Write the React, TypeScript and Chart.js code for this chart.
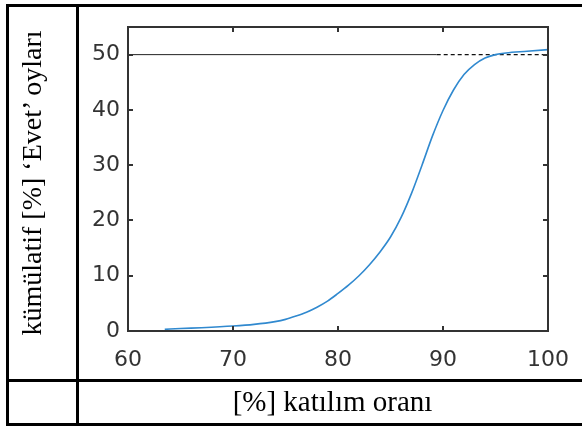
import React, { useEffect, useRef } from "react";
import { Chart, registerables } from "chart.js";

Chart.register(...registerables);

// Data
const participation = [63.5, 65, 67, 70, 72, 74, 75, 76, 77, 78, 79, 80, 81, 82, 83, 84, 85, 86, 87, 88, 89, 90, 91, 92, 93, 94, 95, 96, 98, 100];
const cumulativeYes = [0.3, 0.45, 0.6, 0.9, 1.2, 1.7, 2.1, 2.7, 3.4, 4.3, 5.4, 6.8, 8.3, 10.0, 12.0, 14.3, 17.0, 20.5, 24.9, 30.0, 35.3, 39.9, 43.6, 46.4, 48.2, 49.4, 50.0, 50.3, 50.6, 50.9];
const refLevel = 50;
const refSolidStart = 60;
const refSolidEnd = 89.4;
const refDashEnd = 100;
const xTickValues = [60, 70, 80, 90, 100];
const yTickValues = [0, 10, 20, 30, 40, 50];
const yAxisLabel = "kümülatif [%] ‘Evet’ oyları";
const xAxisLabel = "[%] katılım oranı";

const framePlugin = {
  id: "matlabFrame",
  afterDraw(chart: any) {
    const { ctx, chartArea: a, scales } = chart;
    const xs = scales.x;
    const ys = scales.y;
    ctx.save();
    ctx.strokeStyle = "#333333";
    ctx.lineWidth = 2;
    ctx.strokeRect(a.left, a.top, a.right - a.left, a.bottom - a.top);
    ctx.beginPath();
    const tl = 5;
    xTickValues.forEach((v) => {
      const px = Math.round(xs.getPixelForValue(v));
      ctx.moveTo(px, a.bottom);
      ctx.lineTo(px, a.bottom - tl);
      ctx.moveTo(px, a.top);
      ctx.lineTo(px, a.top + tl);
    });
    yTickValues.forEach((v) => {
      const py = Math.round(ys.getPixelForValue(v));
      ctx.moveTo(a.left, py);
      ctx.lineTo(a.left + tl, py);
      ctx.moveTo(a.right, py);
      ctx.lineTo(a.right - tl, py);
    });
    ctx.stroke();
    ctx.restore();
  },
};

export default function App() {
  const ref = useRef<HTMLCanvasElement | null>(null);

  useEffect(() => {
    document.body.style.margin = "0";
    const canvas = ref.current;
    if (!canvas) return;
    const chart = new Chart(canvas, {
      type: "line",
      data: {
        datasets: [
          {
            data: participation.map((x, i) => ({ x, y: cumulativeYes[i] })),
            borderColor: "#3089cf",
            borderWidth: 1.6,
            pointRadius: 0,
            cubicInterpolationMode: "monotone",
            fill: false,
          },
          {
            data: [
              { x: refSolidStart, y: refLevel },
              { x: refSolidEnd, y: refLevel },
            ],
            borderColor: "#222222",
            borderWidth: 1,
            pointRadius: 0,
            fill: false,
          },
          {
            data: [
              { x: refSolidEnd, y: refLevel },
              { x: refDashEnd, y: refLevel },
            ],
            borderColor: "#111111",
            borderWidth: 1.2,
            borderDash: [4, 3],
            pointRadius: 0,
            fill: false,
          },
        ],
      } as any,
      options: {
        animation: false,
        responsive: false,
        maintainAspectRatio: false,
        layout: { padding: { left: 0, top: 27, right: 34, bottom: 0 } },
        plugins: { legend: { display: false }, tooltip: { enabled: false } },
        scales: {
          x: {
            type: "linear",
            min: 60,
            max: 100,
            grid: { display: false, tickLength: 8 },
            border: { display: false },
            afterBuildTicks: (s: any) => {
              s.ticks = xTickValues.map((v) => ({ value: v }));
            },
            afterFit: (s: any) => {
              s.height = 97;
            },
            ticks: {
              color: "#333333",
              padding: 8,
              maxRotation: 0,
              font: { family: "DejaVu Sans", size: 22 },
            },
          },
          y: {
            type: "linear",
            min: 0,
            max: 55,
            grid: { display: false, drawTicks: false },
            border: { display: false },
            afterBuildTicks: (s: any) => {
              s.ticks = yTickValues.map((v) => ({ value: v }));
            },
            afterFit: (s: any) => {
              s.width = 128;
            },
            ticks: {
              color: "#333333",
              padding: 8,
              font: { family: "DejaVu Sans", size: 22 },
            },
          },
        },
      } as any,
      plugins: [framePlugin],
    });
    return () => chart.destroy();
  }, []);

  const line = (style: React.CSSProperties) => (
    <div style={{ position: "absolute", background: "#000", ...style }} />
  );

  return (
    <div
      style={{
        position: "fixed",
        left: 0,
        top: 0,
        width: 582,
        height: 428,
        overflow: "hidden",
        background: "#fff",
      }}
    >
      <canvas
        ref={ref}
        width={582}
        height={428}
        style={{ position: "absolute", left: 0, top: 0, width: 582, height: 428 }}
      />
      {line({ left: 6, top: 4, width: 600, height: 3 })}
      {line({ left: 6, top: 379, width: 600, height: 3 })}
      {line({ left: 6, top: 423, width: 600, height: 3 })}
      {line({ left: 6, top: 4, width: 3, height: 422 })}
      {line({ left: 76, top: 4, width: 3, height: 422 })}
      <div
        style={{
          position: "absolute",
          left: 31.6 - 200,
          top: 182.5 - 20,
          width: 400,
          height: 40,
          lineHeight: "40px",
          textAlign: "center",
          fontFamily: "'Liberation Serif', serif",
          fontSize: 28,
          color: "#000",
          whiteSpace: "nowrap",
          transform: "rotate(-90deg)",
          transformOrigin: "50% 50%",
        }}
      >
        {yAxisLabel}
      </div>
      <div
        style={{
          position: "absolute",
          left: 78,
          top: 381,
          width: 509,
          height: 40,
          lineHeight: "40px",
          textAlign: "center",
          fontFamily: "'Liberation Serif', serif",
          fontSize: 29,
          color: "#000",
          whiteSpace: "nowrap",
        }}
      >
        {xAxisLabel}
      </div>
    </div>
  );
}
